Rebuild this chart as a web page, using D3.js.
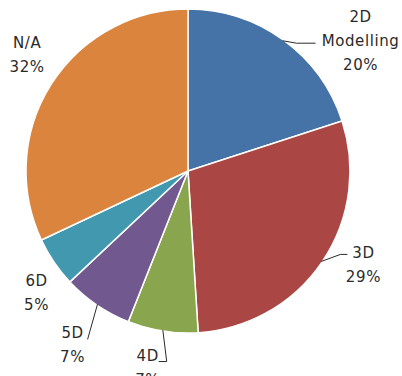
<!DOCTYPE html>
<meta charset="utf-8">
<html>
  <head>
    <script src="https://d3js.org/d3.v7.min.js"></script>
    <style>
      body { margin: 0; background: #fff; }
      text { font-family: "DejaVu Sans", sans-serif; font-size: 15px; letter-spacing: 0.6px; fill: #2a2a2a; }
    </style>
  </head>
  <body>
    <div id="chart"></div>
    <script>
        // chart data
        var categories = ["2D Modelling", "3D", "4D", "5D", "6D", "N/A"];
        var percents = [20, 29, 7, 7, 5, 32];
        var colors = ["#4572A7", "#AA4643", "#89A54E", "#71588F", "#4198AF", "#DB843D"];

        var width = 402, height = 376,
            cx = 188, cy = 171,
            radius = 162,
            label_radius = 200,
            line_height = 24;

        // label nudges and leader shapes (layout only)
        var label_nudge = [[55, 31], [10, -19], [-9, -1], [-3, 8], [14, 9], [8, -9]];
        var leaders = [
            [[-64, 3], [-45, 3]],
            [[-23, -10], [-16, -10]],
            [[19, -6], [11, -6]],
            [[15, -5]],
            null,
            null
        ];

        var svg = d3.select("#chart").append("svg")
            .attr("width", width)
            .attr("height", height);

        var g = svg.append("g")
            .attr("transform", "translate(" + cx + "," + cy + ")");

        var pie = d3.pie().sort(null).value(function(d){ return d; });
        var arcs = pie(percents);

        var arc = d3.arc().innerRadius(0).outerRadius(radius);

        g.selectAll("path.slice")
            .data(arcs)
            .enter().append("path")
            .attr("class", "slice")
            .attr("d", arc)
            .attr("fill", function(d, i){ return colors[i]; })
            .attr("stroke", "#fff")
            .attr("stroke-width", 1.5);

        function mid(d){ return (d.startAngle + d.endAngle) / 2; }
        function polar(a, r){ return [r * Math.sin(a), -r * Math.cos(a)]; }

        // label block centres
        var label_pos = arcs.map(function(d, i){
            var p = polar(mid(d), label_radius);
            return [p[0] + label_nudge[i][0], p[1] + label_nudge[i][1]];
        });

        // leader lines
        var line = d3.line();
        g.selectAll("path.leader")
            .data(arcs.filter(function(d, i){ return leaders[i]; }))
            .enter().append("path")
            .attr("class", "leader")
            .attr("d", function(d){
                var i = d.index;
                var pts = [polar(mid(d), radius - 1)];
                leaders[i].forEach(function(o){
                    pts.push([label_pos[i][0] + o[0], label_pos[i][1] + o[1]]);
                });
                return line(pts);
            })
            .attr("fill", "none")
            .attr("stroke", "#2a2a2a")
            .attr("stroke-width", 1);

        // labels
        var labels = g.selectAll("text.label")
            .data(arcs)
            .enter().append("text")
            .attr("class", "label")
            .attr("text-anchor", "middle");

        labels.each(function(d, i){
            var lines = categories[i].split(" ").concat([percents[i] + "%"]);
            var top = label_pos[i][1] - (lines.length - 1) * line_height / 2;
            d3.select(this).selectAll("tspan")
                .data(lines)
                .enter().append("tspan")
                .attr("x", label_pos[i][0])
                .attr("y", function(t, k){ return top + k * line_height; })
                .attr("dy", "0.36em")
                .text(function(t){ return t; });
        });
    </script>
  </body>
</html>
